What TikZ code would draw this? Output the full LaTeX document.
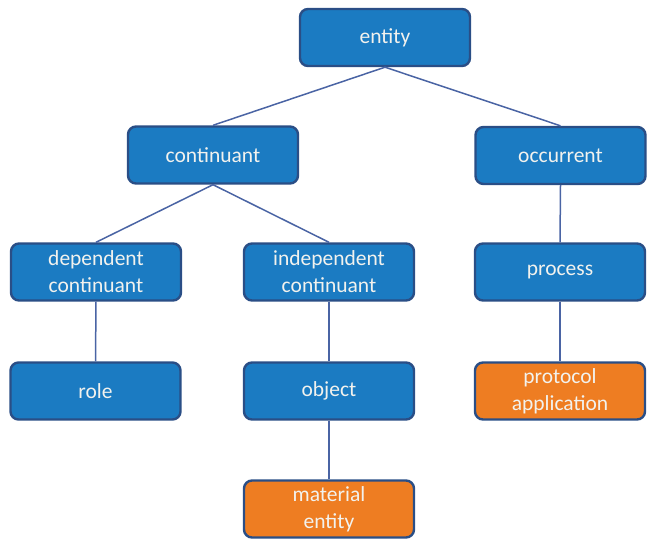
\documentclass[tikz,border=0pt]{standalone}
\usepackage{fontspec}
\setmainfont{Carlito}
\definecolor{boxblue}{HTML}{1B7BC2}
\definecolor{boxorange}{HTML}{EE7D22}
\definecolor{rim}{HTML}{2A4E86}
\definecolor{wire}{HTML}{4A64A4}
\definecolor{label}{HTML}{F2F2EE}
\tikzset{
  term/.style={draw=rim, line width=2.4pt, rounded corners=8pt, fill=boxblue,
    minimum width=170pt, minimum height=57pt, align=center,
    text=label, font=\fontsize{21.5pt}{27pt}\selectfont, inner sep=2pt},
  leaf/.style={term, fill=boxorange},
  link/.style={draw=wire, line width=1.5pt}
}
\begin{document}
\begin{tikzpicture}[x=1pt, y=-1pt]
\useasboundingbox (0,0) rectangle (647,543);
\node[term] (entity) at (385,37.5) {entity};
\node[term] (cont) at (213,155) {continuant};
\node[term] (occ) at (560.5,155.5) {occurrent};
\node[term] (dep) at (96,272) {dependent\\continuant};
\node[term] (indep) at (329,272) {independent\\continuant};
\node[term] (proc) at (560,272) {process};
\node[term] (role) at (95.5,391) {role};
\node[term] (obj) at (329,391) {object};
\node[leaf] (prot) at (560,391) {protocol\\application};
\node[leaf] (mat) at (329,509) {material\\entity};
\draw[link] (entity.south) -- (cont.north);
\draw[link] (entity.south) -- (occ.north);
\draw[link] (cont.south) -- (dep.north);
\draw[link] (cont.south) -- (indep.north);
\draw[link] (occ.south) -- (proc.north);
\draw[link] (dep.south) -- (role.north);
\draw[link] (indep.south) -- (obj.north);
\draw[link] (proc.south) -- (prot.north);
\draw[link] (obj.south) -- (mat.north);
\end{tikzpicture}
\end{document}
